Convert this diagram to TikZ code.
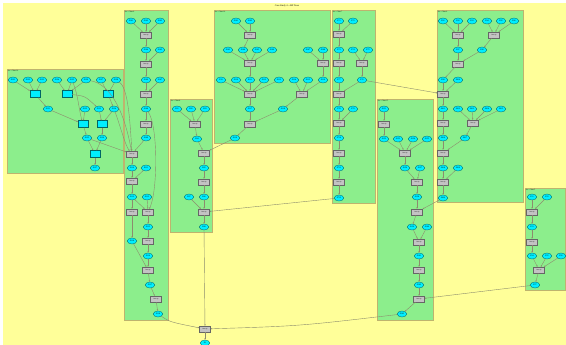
\documentclass[tikz,border=0pt]{standalone}
\usepackage{fontspec}
\setmainfont{Liberation Serif}
\usetikzlibrary{
    positioning,
    arrows.meta,
    shapes.geometric,
    calc,
}
\definecolor{bgyellow}{RGB}{255,255,153}
\definecolor{secgreen}{RGB}{140,238,140}
\definecolor{secborder}{RGB}{190,180,110}
\definecolor{ptcyan}{RGB}{0,238,255}
\definecolor{opgray}{RGB}{195,195,195}
\definecolor{wiregray}{RGB}{140,140,110}
\tikzset{
    % Node styles
    pt/.style={ellipse, draw=teal!80!black, fill=ptcyan, line width=0.3pt,
               minimum width=9.5pt, minimum height=6pt, inner sep=0pt,
               font=\fontsize{2}{2}\selectfont},
    op/.style={rectangle, draw=gray!80!black, fill=opgray, line width=0.3pt,
               minimum width=11pt, minimum height=6pt, inner sep=0pt,
               font=\fontsize{1.6}{2}\selectfont},
    tbox/.style={rectangle, draw=teal!80!black, fill=ptcyan, line width=0.3pt,
                 minimum width=10pt, minimum height=7pt, inner sep=0pt},
    % Section styles
    sec/.style={draw=secborder, fill=secgreen, line width=0.8pt},
    seclabel/.style={anchor=north west, inner sep=0.6pt, font=\fontsize{1.8}{2}\selectfont},
    % Arrow styles
    wire/.style={-{Stealth[length=1.6pt, width=1.3pt]}, draw=wiregray, line width=0.4pt},
}

\begin{document}
\begin{tikzpicture}[x=1pt, y=-1pt]
    \useasboundingbox (0,0) rectangle (566,345);
    \fill[white] (0,0) rectangle (566,345);
    \fill[bgyellow] (3,3) rectangle (566,345);
    \node[font=\fontsize{2.4}{3}\selectfont] (title) at (287,6) {Case Study 4 - 469 Trees};

    % Sections
    \draw[sec] (7,69) rectangle (123,173);
    \node[seclabel] (secA) at (7,69) {Sec : Chart 10};
    \draw[sec] (124,10) rectangle (168,320);
    \node[seclabel] (secB) at (124,10) {Sec : Chart 6};
    \draw[sec] (170,99) rectangle (212,232);
    \node[seclabel] (secC) at (170,99) {Sec : Chart 8};
    \draw[sec] (214,10) rectangle (330,143);
    \node[seclabel] (secD) at (214,10) {Sec : Chart 16};
    \draw[sec] (332,10) rectangle (375,203);
    \node[seclabel] (secE) at (332,10) {Sec : Chart 7};
    \draw[sec] (377,99) rectangle (433,320);
    \node[seclabel] (secF) at (377,99) {Sec : Chart 15};
    \draw[sec] (437,10) rectangle (523,202);
    \node[seclabel] (secG) at (437,10) {Sec : Chart 9};
    \draw[sec] (525,188) rectangle (565,290);
    \node[seclabel] (secH) at (525,188) {Sec : Chart 5};

    % Chart 10
    \foreach \x [count=\i] in {13,28,42,57,72,86,101,116}
        \node[pt] (a\i) at (\x,80) {P12\i};
    \node[tbox] (ar1) at (35,94) {};
    \node[tbox] (ar2) at (67,94) {};
    \node[tbox] (ar3) at (108,94) {};
    \node[pt] (a9) at (48,109) {P131};
    \node[pt] (a10) at (85,109) {P132};
    \node[pt] (a11) at (99,109) {P133};
    \node[pt] (a12) at (114,109) {P134};
    \node[tbox] (ar4) at (83,124) {};
    \node[tbox] (ar5) at (102,124) {};
    \node[pt] (a13) at (87,138) {P135};
    \node[pt] (a14) at (102,138) {P136};
    \node[tbox] (ar6) at (95,154) {};
    \node[pt] (a15) at (95,168) {P137};

    % Chart 6
    \node[pt] (b1) at (131,21) {P101};
    \node[pt] (b2) at (146,21) {P102};
    \node[pt] (b3) at (160,21) {P103};
    \node[op] (bx1) at (146,35) {Join Op};
    \node[pt] (b4) at (146,50) {P104};
    \node[pt] (b5) at (160,50) {P105};
    \node[op] (bx2) at (146,64) {Join Op};
    \node[pt] (b6) at (146,80) {P106};
    \node[pt] (b7) at (160,80) {P107};
    \node[op] (bx3) at (146,94) {Join Op};
    \node[pt] (b8) at (146,109) {P108};
    \node[op] (bx4) at (146,124) {Join Op};
    \node[pt] (b9) at (146,138) {P109};
    \node[op] (bx5) at (132,154) {Join Op};
    \node[pt] (b10) at (132,168) {P110};
    \node[pt] (b11) at (146,168) {P111};
    \node[op] (bx6) at (132,181) {Join Op};
    \node[pt] (b12) at (132,197) {P112};
    \node[pt] (b13) at (147,197) {P113};
    \node[op] (bx7) at (132,212) {Join Op};
    \node[op] (bx8) at (148,212) {Join Op};
    \node[pt] (b15) at (148,227) {P115};
    \node[pt] (b14) at (132,241) {P114};
    \node[op] (bx9) at (148,241) {Join Op};
    \node[pt] (b16) at (148,256) {P116};
    \node[op] (bx10) at (148,270) {Join Op};
    \node[pt] (b17) at (150,285) {P117};
    \node[op] (bx11) at (156,299) {Join Op};
    \node[pt] (b18) at (158,314) {P118};

    % Chart 8
    \node[pt] (c1) at (177,109) {P81};
    \node[pt] (c2) at (191,109) {P82};
    \node[pt] (c3) at (205,109) {P83};
    \node[op] (cx1) at (195,124) {Join Op};
    \node[pt] (c4) at (197,139) {P84};
    \node[op] (cx2) at (204,153) {Join Op};
    \node[pt] (c5) at (204,168) {P85};
    \node[op] (cx3) at (204,182) {Join Op};
    \node[pt] (c7) at (189,197) {P87};
    \node[pt] (c6) at (204,197) {P86};
    \node[op] (cx4) at (204,212) {Join Op};
    \node[pt] (c8) at (204,227) {P88};

    % Chart 16
    \node[pt] (d1) at (236,21) {P161};
    \node[pt] (d2) at (250,21) {P162};
    \node[op] (dx1) at (250,35) {Join Op};
    \foreach \x [count=\i from 3] in {228,243,257,272,308,323}
        \node[pt] (d\i) at (\x,50) {P16\i};
    \node[op] (dx2) at (250,63) {Join Op};
    \node[op] (dx3) at (323,63) {Join Op};
    \foreach \x [count=\i from 9] in {221,236,250,264,279,294,308,323}
        \node[pt] (d\i) at (\x,80) {P1\i};
    \node[op] (dx4) at (250,94) {Join Op};
    \node[op] (dx5) at (302,94) {Join Op};
    \node[pt] (d17) at (250,109) {P117};
    \node[pt] (d18) at (283,109) {P118};
    \node[op] (dx6) at (250,124) {Join Op};
    \node[pt] (d19) at (235,138) {P119};

    % Chart 7
    \node[pt] (e1) at (339,21) {P71};
    \node[pt] (e2) at (353,21) {P72};
    \node[op] (ex1) at (339,34) {Join Op};
    \node[pt] (e3) at (339,50) {P73};
    \node[pt] (e4) at (353,50) {P74};
    \node[pt] (e5) at (368,50) {P75};
    \node[op] (ex3) at (339,63) {Join Op};
    \node[op] (ex2) at (362,63) {Join Op};
    \node[pt] (e7) at (339,80) {P77};
    \node[pt] (e6) at (362,80) {P76};
    \node[op] (ex4) at (339,94) {Join Op};
    \node[pt] (e8) at (339,109) {P78};
    \node[pt] (e9) at (353,109) {P79};
    \node[op] (ex5) at (339,123) {Join Op};
    \node[pt] (e10) at (339,138) {P710};
    \node[op] (ex6) at (339,153) {Join Op};
    \node[pt] (e11) at (339,168) {P711};
    \node[op] (ex7) at (339,182) {Join Op};
    \node[pt] (e12) at (339,198) {P712};

    % Chart 15
    \node[pt] (f1) at (384,109) {P151};
    \node[op] (fx1) at (384,124) {Join Op};
    \foreach \x [count=\i from 2] in {384,398,413,427}
        \node[pt] (f\i) at (\x,139) {P15\i};
    \node[op] (fx2) at (405,153) {Join Op};
    \node[pt] (f6) at (405,168) {P156};
    \node[pt] (f7) at (420,168) {P157};
    \node[op] (fx3) at (417,182) {Join Op};
    \node[pt] (f8) at (417,197) {P158};
    \node[op] (fx4) at (417,212) {Join Op};
    \node[pt] (f9) at (412,227) {P159};
    \node[pt] (f10) at (427,227) {P160};
    \node[op] (fx5) at (419,242) {Join Op};
    \node[pt] (f11) at (419,256) {P161};
    \node[op] (fx6) at (419,270) {Join Op};
    \node[pt] (f12) at (419,285) {P162};
    \node[op] (fx7) at (419,299) {Join Op};
    \node[pt] (f13) at (402,314) {P163};

    % Chart 9
    \foreach \x [count=\i] in {443,458,472,487,501,514}
        \node[pt] (g\i) at (\x,21) {P9\i};
    \node[op] (gx1) at (458,35) {Join Op};
    \node[op] (gx2) at (494,35) {Join Op};
    \node[pt] (g7) at (458,50) {P97};
    \node[pt] (g8) at (482,50) {P98};
    \node[op] (gx3) at (458,64) {Join Op};
    \node[pt] (g9) at (443,80) {P99};
    \node[pt] (g10) at (458,80) {P910};
    \node[op] (gx4) at (443,94) {Join Op};
    \foreach \x [count=\i from 11] in {443,458,472,487,501}
        \node[pt] (g\i) at (\x,109) {P9\i};
    \node[op] (gx5) at (443,123) {Join Op};
    \node[op] (gx6) at (473,123) {Join Op};
    \node[pt] (g16) at (443,138) {P916};
    \node[pt] (g17) at (465,138) {P917};
    \node[op] (gx7) at (443,153) {Join Op};
    \node[pt] (g18) at (443,168) {P918};
    \node[pt] (g19) at (458,168) {P919};
    \node[op] (gx8) at (443,182) {Join Op};
    \node[pt] (g20) at (443,198) {P920};

    % Chart 5
    \node[pt] (h1) at (532,197) {P51};
    \node[pt] (h2) at (547,197) {P52};
    \node[op] (hx1) at (532,212) {Join Op};
    \node[pt] (h3) at (532,227) {P53};
    \node[op] (hx2) at (532,242) {Join Op};
    \node[pt] (h4) at (532,256) {P54};
    \node[pt] (h5) at (547,256) {P55};
    \node[pt] (h6) at (561,256) {P56};
    \node[op] (hx3) at (539,270) {Join Op};
    \node[pt] (h7) at (535,285) {P57};

    % Final join
    \node[op] (fin) at (205,329) {Join Op};
    \node[pt] (out) at (205,343) {P1};

    % Edges: Chart 10
    \foreach \s in {a1,a2,a3} \draw[wire] (\s) -- (ar1);
    \foreach \s in {a4,a5,a6} \draw[wire] (\s) -- (ar2);
    \foreach \s in {a7,a8} \draw[wire] (\s) -- (ar3);
    \draw[wire] (ar1) -- (a9);
    \draw[wire] (ar2) .. controls (85,96) .. (a11);
    \draw[wire] (ar3) -- (a12);
    \foreach \s in {a9,a10} \draw[wire] (\s) -- (ar4);
    \draw[wire] (a5) .. controls (78,95) and (79,110) .. (ar4);
    \foreach \s in {a11,a12} \draw[wire] (\s) -- (ar5);
    \draw[wire] (ar4) -- (a13);
    \draw[wire] (ar5) -- (a14);
    \foreach \s in {a13,a14} \draw[wire] (\s) -- (ar6);
    \draw[wire] (ar6) -- (a15);
    \draw[wire] (a13) -- (bx5);
    \draw[wire] (a6) .. controls (110,84) and (124,110) .. (bx5);
    \draw[wire] (a8) .. controls (128,88) and (130,120) .. (bx5);
    \draw[wire] (a12) .. controls (120,125) and (125,145) .. (bx5);

    % Edges: Chart 6
    \foreach \s in {b1,b2,b3} \draw[wire] (\s) -- (bx1);
    \draw[wire] (bx1) -- (b4);
    \foreach \s in {b4,b5} \draw[wire] (\s) -- (bx2);
    \draw[wire] (bx2) -- (b6);
    \foreach \s in {b6,b7} \draw[wire] (\s) -- (bx3);
    \draw[wire] (bx3) -- (b8);
    \draw[wire] (b8) -- (bx4);
    \draw[wire] (bx4) -- (b9);
    \draw[wire] (b9) -- (bx5);
    \draw[wire] (bx5) -- (b10);
    \foreach \s in {b10,b11} \draw[wire] (\s) -- (bx6);
    \draw[wire] (bx6) -- (b12);
    \draw[wire] (b12) -- (bx7);
    \foreach \s in {b12,b13} \draw[wire] (\s) -- (bx8);
    \draw[wire] (b8) .. controls (158,125) and (158,190) .. (bx8);
    \draw[wire] (bx7) -- (b14);
    \draw[wire] (bx8) -- (b15);
    \draw[wire] (b15) -- (bx9);
    \draw[wire] (bx9) -- (b16);
    \foreach \s in {b14,b16} \draw[wire] (\s) -- (bx10);
    \draw[wire] (bx10) -- (b17);
    \draw[wire] (b17) -- (bx11);
    \draw[wire] (bx11) -- (b18);
    \draw[wire] (b18) .. controls (170,322) .. (fin);

    % Edges: Chart 8
    \foreach \s in {c1,c2,c3} \draw[wire] (\s) -- (cx1);
    \draw[wire] (cx1) -- (c4);
    \draw[wire] (c4) -- (cx2);
    \draw[wire] (cx2) -- (c5);
    \draw[wire] (c5) -- (cx3);
    \draw[wire] (cx3) -- (c6);
    \foreach \s in {c6,c7} \draw[wire] (\s) -- (cx4);
    \draw[wire] (cx4) -- (c8);
    \draw[wire] (c8) -- (fin);

    % Edges: Chart 16
    \foreach \s in {d1,d2} \draw[wire] (\s) -- (dx1);
    \draw[wire] (dx1) -- (d4);
    \foreach \s in {d3,d4,d5,d6} \draw[wire] (\s) -- (dx2);
    \foreach \s in {d7,d8} \draw[wire] (\s) -- (dx3);
    \draw[wire] (dx2) -- (d11);
    \draw[wire] (dx3) -- (d16);
    \foreach \s in {d9,d10,d11,d12,d13} \draw[wire] (\s) -- (dx4);
    \foreach \s in {d14,d15,d16} \draw[wire] (\s) -- (dx5);
    \draw[wire] (dx4) -- (d17);
    \draw[wire] (dx5) -- (d18);
    \foreach \s in {d17,d18} \draw[wire] (\s) -- (dx6);
    \draw[wire] (dx6) -- (d19);
    \draw[wire] (d19) -- (cx2);

    % Edges: Chart 7
    \foreach \s in {e1,e2} \draw[wire] (\s) -- (ex1);
    \draw[wire] (ex1) -- (e3);
    \draw[wire] (e3) -- (ex3);
    \draw[wire] (ex3) -- (e7);
    \foreach \s in {e4,e5} \draw[wire] (\s) -- (ex2);
    \draw[wire] (ex2) -- (e6);
    \foreach \s in {e6,e7} \draw[wire] (\s) -- (ex4);
    \draw[wire] (ex4) -- (e8);
    \foreach \s in {e8,e9} \draw[wire] (\s) -- (ex5);
    \draw[wire] (ex5) -- (e10);
    \draw[wire] (e10) -- (ex6);
    \draw[wire] (ex6) -- (e11);
    \draw[wire] (e11) -- (ex7);
    \draw[wire] (ex7) -- (e12);
    \draw[wire] (e12) -- (cx4);
    \draw[wire] (e6) -- (gx4);

    % Edges: Chart 15
    \draw[wire] (f1) -- (fx1);
    \draw[wire] (fx1) -- (f2);
    \foreach \s in {f2,f3,f4,f5} \draw[wire] (\s) -- (fx2);
    \draw[wire] (fx2) -- (f6);
    \foreach \s in {f6,f7} \draw[wire] (\s) -- (fx3);
    \draw[wire] (fx3) -- (f8);
    \draw[wire] (f8) -- (fx4);
    \draw[wire] (fx4) -- (f9);
    \foreach \s in {f9,f10} \draw[wire] (\s) -- (fx5);
    \draw[wire] (fx5) -- (f11);
    \draw[wire] (f11) -- (fx6);
    \draw[wire] (fx6) -- (f12);
    \draw[wire] (f12) -- (fx7);
    \draw[wire] (fx7) -- (f13);
    \draw[wire] (f13) .. controls (300,326) .. (fin);

    % Edges: Chart 9
    \foreach \s in {g1,g2,g3} \draw[wire] (\s) -- (gx1);
    \foreach \s in {g4,g5,g6} \draw[wire] (\s) -- (gx2);
    \draw[wire] (gx1) -- (g7);
    \draw[wire] (gx2) -- (g8);
    \foreach \s in {g7,g8} \draw[wire] (\s) -- (gx3);
    \draw[wire] (gx3) -- (g9);
    \foreach \s in {g9,g10} \draw[wire] (\s) -- (gx4);
    \draw[wire] (gx4) -- (g11);
    \draw[wire] (g11) -- (gx5);
    \foreach \s in {g12,g13,g14,g15} \draw[wire] (\s) -- (gx6);
    \draw[wire] (gx5) -- (g16);
    \draw[wire] (gx6) -- (g17);
    \foreach \s in {g16,g17} \draw[wire] (\s) -- (gx7);
    \draw[wire] (gx7) -- (g18);
    \foreach \s in {g18,g19} \draw[wire] (\s) -- (gx8);
    \draw[wire] (gx8) -- (g20);
    \draw[wire] (g20) -- (fx4);

    % Edges: Chart 5
    \foreach \s in {h1,h2} \draw[wire] (\s) -- (hx1);
    \draw[wire] (hx1) -- (h3);
    \draw[wire] (h3) -- (hx2);
    \draw[wire] (hx2) -- (h4);
    \foreach \s in {h4,h5,h6} \draw[wire] (\s) -- (hx3);
    \draw[wire] (hx3) -- (h7);
    \draw[wire] (h7) -- (fx7);

    % Final
    \draw[wire] (fin) -- (out);
\end{tikzpicture}
\end{document}
